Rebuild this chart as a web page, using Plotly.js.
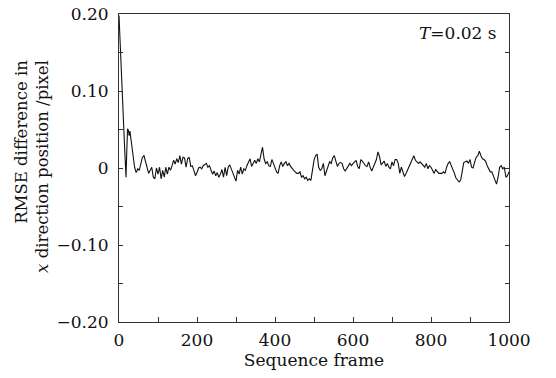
<!DOCTYPE html>
<html>
<head>
<meta charset="utf-8">
<script src="https://cdn.plot.ly/plotly-3.0.1.min.js"></script>
<style>html,body{margin:0;padding:0;background:#fff;}#chart{width:556px;height:378px;}</style>
</head>
<body>
<div id="chart"></div>
<script>
const frames = [0,2,4,6,8,10,12,14,16,18,20,22,24,26,28,30,32,34,36,38,40,
44,48,52,56,60,64,68,72,76,80,84,88,92,96,100,104,108,112,116,120,124,128,132,136,140,144,148,152,156,160,
164,168,172,176,180,184,188,192,196,200,204,208,212,216,220,224,228,232,236,240,244,248,252,256,260,
264,268,272,276,280,284,288,292,296,300,304,308,312,316,320,324,328,332,336,340,344,348,352,356,360,
364,368,372,376,380,384,388,392,396,400,404,408,412,416,420,424,428,432,436,440,444,448,452,456,460,
464,468,472,476,480,484,488,492,496,500,504,508,512,516,520,524,528,532,536,540,544,548,552,556,560,
564,568,572,576,580,584,588,592,596,600,604,608,612,616,620,624,628,632,636,640,644,648,652,656,660,
664,668,672,676,680,684,688,692,696,700,704,708,712,716,720,724,728,732,736,740,744,748,752,756,760,
764,768,772,776,780,784,788,792,796,800,804,808,812,816,820,824,828,832,836,840,844,848,852,856,860,
864,868,872,876,880,884,888,892,896,900,904,908,912,916,920,924,928,932,936,940,944,948,952,956,960,
964,968,972,976,980,984,988,992,996,1000];

const rmseDiff = [0.198,0.17,0.144,0.118,0.092,0.07,0.055,0.031,0.001,-0.012,0.023,0.051,0.049,0.042,0.048,0.04,0.031,0.023,0.014,0.007,0.001,
-0.006,-0.001,-0.003,0.005,0.014,0.016,0.007,0.001,-0.007,-0.003,0.001,-0.012,-0.014,0,-0.008,0.001,-0.014,-0.003,-0.012,0.001,-0.008,0.001,-0.003,0.003,0.01,0.005,0.012,0.007,0.016,0.005,
0.014,0.013,0.001,0.012,0.014,0.002,0.003,-0.003,-0.01,-0.006,0,0.001,-0.001,0.003,0.005,0.006,0.001,0.003,-0.003,-0.008,-0.004,-0.01,-0.006,-0.012,-0.008,
-0.002,-0.012,0.001,-0.01,0.001,0.004,-0.001,-0.008,-0.012,-0.017,-0.003,-0.008,0.001,-0.008,-0.001,-0.003,0.003,0.007,0.012,0.002,0.006,0.01,0.006,0.012,0.008,
0.018,0.027,0.012,0.006,0.008,0.003,0.002,0.011,0.006,0,-0.005,-0.007,0.003,0.008,0.002,0.006,0.008,0.003,0.006,0.002,-0.001,-0.003,-0.005,-0.007,-0.007,
-0.005,-0.012,-0.01,-0.014,-0.012,-0.016,-0.014,-0.016,-0.003,0.01,0.016,0.018,0.001,-0.003,-0.001,0.006,-0.01,-0.003,0.001,0.008,0.006,0.013,0.016,0.009,0.002,
0.006,0.007,0.006,-0.001,-0.004,0,0.002,0.006,0.003,0.006,0.008,0.01,0.002,-0.001,0.011,0.009,0.006,0.003,0.002,0.008,0.001,-0.004,0.001,0.006,0.011,
0.021,0.015,0.004,0.006,0.009,0.002,0.006,0.001,-0.001,0.008,0.003,0.011,0.011,0.006,-0.007,0.001,-0.005,-0.011,-0.007,-0.002,0.001,0.006,0.012,0.016,0.01,
0.008,0.006,0.008,0.006,0.003,0.001,0.006,-0.001,0.003,0.001,-0.003,-0.007,-0.002,-0.004,-0.007,-0.007,-0.007,-0.005,-0.007,0.001,0.006,0.008,0.003,0,-0.007,
-0.013,-0.015,-0.018,-0.016,-0.005,0.007,0.008,0.009,0.006,0.011,0.001,0,0.008,0.014,0.016,0.022,0.016,0.012,0.011,0.009,0.003,-0.001,-0.005,-0.005,-0.011,
-0.017,-0.021,-0.012,0.001,0.003,-0.001,0.001,-0.012,-0.01,-0.005];

const yTickVals = [-0.2,-0.1,0,0.1,0.2];
const yTickText = ["\u22120.20","\u22120.10","0","0.10","0.20"];
const xTickVals = [0,200,400,600,800,1000];
const xTickText = ["0","200","400","600","800","1000"];

const serif = "DejaVu Serif, Liberation Serif, serif";
const axisColor = "#333";

const trace = {
  x: frames,
  y: rmseDiff,
  type: "scatter",
  mode: "lines",
  line: {color: "#111", width: 1.1},
  hoverinfo: "skip"
};

const layout = {
  width: 556,
  height: 378,
  margin: {l: 119, r: 47, t: 14, b: 56},
  paper_bgcolor: "#fff",
  plot_bgcolor: "#fff",
  showlegend: false,
  font: {family: serif, size: 17, color: "#111"},
  xaxis: {
    range: [0, 1000],
    tickmode: "array",
    tickvals: xTickVals,
    ticktext: xTickText,
    ticks: "inside",
    ticklen: 5,
    tickcolor: axisColor,
    showline: true,
    linecolor: axisColor,
    linewidth: 1,
    mirror: true,
    showgrid: false,
    zeroline: false,
    minor: {dtick: 100, ticks: "inside", ticklen: 5, tickcolor: axisColor, showgrid: false},
    tickfont: {family: serif, size: 17},
    ticklabelstandoff: 3,
    title: {text: "Sequence frame", font: {family: serif, size: 17}, standoff: 3}
  },
  yaxis: {
    range: [-0.2, 0.2],
    tickmode: "array",
    tickvals: yTickVals,
    ticktext: yTickText,
    ticks: "inside",
    ticklen: 4,
    tickcolor: axisColor,
    showline: true,
    linecolor: axisColor,
    linewidth: 1,
    mirror: "ticks",
    showgrid: false,
    zeroline: false,
    minor: {dtick: 0.05, ticks: "inside", ticklen: 4, tickcolor: axisColor, showgrid: false},
    tickfont: {family: serif, size: 17},
    ticklabelstandoff: 6
  },
  annotations: [
    {
      xref: "paper", yref: "paper",
      x: -0.222, y: 0.505,
      xanchor: "center", yanchor: "middle",
      textangle: -90,
      align: "right",
      showarrow: false,
      text: "RMSE difference in<br><i>x</i> direction position /pixel",
      font: {family: serif, size: 16.5, color: "#111"}
    },
    {
      xref: "paper", yref: "paper",
      x: 0.975, y: 0.937,
      xanchor: "right", yanchor: "middle",
      showarrow: false,
      text: "<i>T</i>=0.02 s",
      font: {family: serif, size: 17, color: "#111"}
    }
  ]
};

Plotly.newPlot("chart", [trace], layout, {staticPlot: true, displayModeBar: false});
</script>
</body>
</html>
